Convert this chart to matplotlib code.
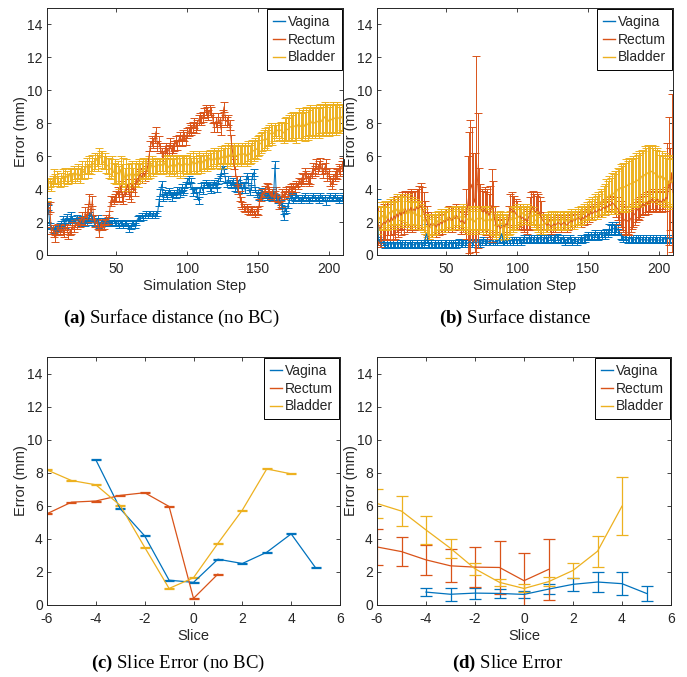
import matplotlib
matplotlib.use("Agg")
import matplotlib.pyplot as plt
from matplotlib.lines import Line2D

plt.rcParams['font.family'] = ['Liberation Sans', 'DejaVu Sans']
plt.rcParams['mathtext.fontset'] = 'custom'
plt.rcParams['mathtext.rm'] = 'Liberation Serif'
plt.rcParams['mathtext.bf'] = 'Liberation Serif:bold'
plt.rcParams['axes.unicode_minus'] = False

# ---------------- data ----------------
steps = list(range(1, 211))
labels = ["Vagina", "Rectum", "Bladder"]
colors = ["#0072BD", "#D95319", "#EDB120"]

# Panel (a): surface distance (no BC)
va_a = [3.3, 2.9, 1.8, 1.7, 1.6, 1.5, 1.7, 1.4, 1.6, 1.8,
        1.9, 2.2, 2.0, 1.8, 2.3, 2.1, 2.0, 2.4, 2.2, 2.1,
        2.0, 2.3, 2.1, 2.0, 1.9, 2.2, 2.1, 1.9, 2.0, 2.1,
        2.4, 2.6, 2.2, 2.0, 1.9, 2.1, 2.2, 1.8, 2.0, 2.1,
        2.0, 1.9, 2.0, 2.1, 1.9, 2.0, 2.0, 2.1, 1.9, 2.0,
        1.9, 1.8, 2.0, 1.9, 1.8, 1.9, 2.0, 1.8, 1.6, 1.7,
        1.9, 2.0, 1.8, 2.0, 2.2, 2.3, 2.2, 2.4, 2.3, 2.4,
        2.5, 2.4, 2.5, 2.5, 2.4, 2.5, 2.4, 2.5, 2.5, 3.2,
        3.8, 4.3, 3.5, 3.8, 3.7, 3.6, 3.9, 3.8, 3.5, 3.7,
        3.8, 3.6, 3.9, 4.0, 3.7, 4.1, 3.8, 3.9, 4.3, 4.5,
        4.6, 4.3, 4.5, 3.8, 3.9, 4.0, 3.6, 3.3, 4.0, 4.2,
        3.9, 4.3, 4.4, 4.2, 4.3, 4.1, 3.9, 4.3, 4.4, 4.2,
        4.0, 4.5, 4.7, 5.0, 5.4, 5.2, 4.6, 4.3, 4.6, 4.4,
        4.2, 4.5, 4.3, 4.1, 4.0, 4.4, 4.6, 4.2, 3.9, 4.3,
        3.9, 4.8, 4.6, 3.8, 4.1, 4.8, 5.0, 4.0, 3.7, 3.8,
        3.5, 3.6, 3.9, 3.7, 3.6, 3.5, 3.7, 3.6, 3.5, 3.4,
        3.6, 5.5, 3.5, 3.3, 3.4, 3.2, 3.0, 2.3, 2.8, 2.7,
        3.0, 3.3, 3.5, 3.6, 3.3, 3.4, 3.7, 3.5, 3.4, 3.3,
        3.5, 3.4, 3.6, 3.4, 3.5, 3.3, 3.4, 3.5, 3.6, 3.5,
        3.4, 3.5, 3.3, 3.6, 3.5, 3.4, 3.5, 3.2, 3.4, 3.5,
        3.6, 3.4, 3.5, 3.6, 3.4, 3.5, 3.3, 3.4, 3.5, 3.6]
va_a_err = [0.15, 0.15, 0.15, 0.15, 0.2, 0.15, 0.15, 0.15, 0.15, 0.15,
            0.15, 0.15, 0.2, 0.15, 0.2, 0.15, 0.15, 0.2, 0.15, 0.15,
            0.15, 0.15, 0.15, 0.2, 0.15, 0.15, 0.15, 0.15, 0.15, 0.15,
            0.2, 0.2, 0.15, 0.15, 0.15, 0.15, 0.2, 0.15, 0.15, 0.15,
            0.15, 0.15, 0.15, 0.15, 0.15, 0.15, 0.15, 0.15, 0.15, 0.15,
            0.15, 0.15, 0.15, 0.15, 0.15, 0.15, 0.15, 0.15, 0.2, 0.15,
            0.15, 0.15, 0.15, 0.15, 0.15, 0.15, 0.15, 0.15, 0.15, 0.15,
            0.15, 0.15, 0.15, 0.15, 0.15, 0.15, 0.15, 0.15, 0.15, 0.2,
            0.2, 0.2, 0.2, 0.15, 0.15, 0.2, 0.15, 0.15, 0.2, 0.15,
            0.15, 0.15, 0.2, 0.15, 0.15, 0.2, 0.15, 0.15, 0.15, 0.2,
            0.2, 0.15, 0.15, 0.2, 0.15, 0.15, 0.2, 0.2, 0.15, 0.15,
            0.2, 0.15, 0.15, 0.15, 0.15, 0.2, 0.15, 0.15, 0.15, 0.15,
            0.15, 0.2, 0.2, 0.2, 0.2, 0.2, 0.2, 0.15, 0.2, 0.15,
            0.15, 0.15, 0.15, 0.2, 0.15, 0.15, 0.2, 0.15, 0.15, 0.15,
            0.15, 0.2, 0.2, 0.15, 0.15, 0.2, 0.2, 0.15, 0.15, 0.15,
            0.15, 0.15, 0.15, 0.15, 0.15, 0.15, 0.15, 0.15, 0.15, 0.15,
            0.15, 0.2, 0.15, 0.15, 0.15, 0.15, 0.15, 0.2, 0.15, 0.15,
            0.15, 0.15, 0.15, 0.15, 0.15, 0.15, 0.15, 0.15, 0.15, 0.15,
            0.15, 0.15, 0.15, 0.15, 0.15, 0.15, 0.15, 0.15, 0.15, 0.15,
            0.15, 0.15, 0.15, 0.15, 0.15, 0.15, 0.15, 0.15, 0.15, 0.15,
            0.15, 0.15, 0.15, 0.15, 0.15, 0.15, 0.15, 0.15, 0.15, 0.15]

re_a = [3.0, 2.8, 2.9, 1.5, 1.6, 1.3, 1.0, 1.5, 1.7, 1.4,
        1.6, 1.5, 1.3, 1.7, 1.6, 1.2, 1.4, 1.5, 1.8, 1.6,
        1.9, 1.8, 2.0, 1.9, 2.1, 2.3, 2.0, 2.6, 2.3, 2.8,
        3.4, 2.5, 3.3, 2.2, 1.9, 2.0, 1.8, 1.3, 1.9, 1.7,
        1.8, 2.0, 2.2, 2.1, 2.5, 3.3, 3.4, 3.3, 3.5, 3.6,
        3.8, 3.5, 4.2, 3.6, 3.4, 3.9, 4.0, 4.3, 3.7, 3.5,
        4.3, 4.1, 3.9, 4.6, 4.4, 4.8, 4.9, 4.7, 5.0, 4.8,
        5.1, 5.3, 6.0, 6.6, 6.9, 6.8, 7.1, 7.5, 6.6, 6.9,
        6.5, 6.2, 6.0, 6.3, 6.5, 6.2, 6.4, 6.8, 6.3, 6.5,
        6.6, 6.9, 6.7, 7.0, 7.2, 6.9, 7.3, 7.2, 7.0, 7.4,
        7.5, 7.7, 7.6, 7.8, 8.0, 7.7, 7.9, 8.2, 8.3, 8.2,
        8.4, 8.6, 8.8, 8.7, 8.5, 8.8, 8.7, 8.3, 7.8, 8.1,
        7.8, 8.3, 8.1, 7.6, 8.5, 9.0, 8.2, 8.1, 8.2, 7.9,
        7.0, 6.3, 5.5, 5.1, 4.5, 4.0, 3.6, 3.2, 3.0, 2.9,
        2.8, 2.9, 2.7, 2.6, 2.8, 2.7, 2.6, 2.5, 2.7, 2.6,
        3.2, 3.5, 3.8, 3.7, 4.0, 4.2, 4.1, 3.9, 3.6, 3.8,
        3.5, 3.7, 3.9, 3.4, 3.0, 3.1, 3.8, 3.6, 3.7, 3.9,
        3.8, 4.0, 4.1, 3.9, 4.2, 4.0, 4.3, 4.2, 4.5, 4.4,
        4.7, 4.6, 5.0, 4.8, 4.7, 4.5, 4.6, 5.0, 5.3, 5.1,
        5.5, 5.2, 5.4, 5.6, 5.2, 5.0, 5.3, 5.5, 4.8, 5.0,
        4.5, 4.3, 4.6, 4.8, 5.0, 4.9, 5.2, 5.1, 5.4, 5.6]
re_a_err = [0.3, 0.3, 0.3, 0.2, 0.2, 0.2, 0.2, 0.2, 0.2, 0.2,
            0.2, 0.2, 0.2, 0.2, 0.2, 0.2, 0.2, 0.2, 0.2, 0.2,
            0.2, 0.2, 0.2, 0.2, 0.2, 0.3, 0.2, 0.3, 0.3, 0.3,
            0.3, 0.3, 0.3, 0.2, 0.2, 0.2, 0.2, 0.2, 0.2, 0.2,
            0.2, 0.2, 0.2, 0.2, 0.2, 0.3, 0.2, 0.2, 0.2, 0.3,
            0.3, 0.3, 0.3, 0.3, 0.3, 0.3, 0.3, 0.3, 0.3, 0.3,
            0.3, 0.3, 0.3, 0.3, 0.3, 0.3, 0.3, 0.3, 0.3, 0.3,
            0.3, 0.3, 0.3, 0.3, 0.3, 0.3, 0.3, 0.3, 0.3, 0.3,
            0.3, 0.3, 0.3, 0.3, 0.3, 0.3, 0.3, 0.3, 0.3, 0.3,
            0.3, 0.3, 0.3, 0.3, 0.3, 0.3, 0.3, 0.3, 0.3, 0.3,
            0.3, 0.3, 0.3, 0.3, 0.3, 0.3, 0.3, 0.3, 0.3, 0.3,
            0.3, 0.3, 0.3, 0.3, 0.3, 0.3, 0.3, 0.3, 0.3, 0.3,
            0.3, 0.3, 0.3, 0.3, 0.3, 0.3, 0.3, 0.3, 0.3, 0.3,
            0.3, 0.3, 0.3, 0.3, 0.3, 0.3, 0.3, 0.3, 0.2, 0.2,
            0.2, 0.2, 0.2, 0.2, 0.2, 0.2, 0.2, 0.2, 0.2, 0.2,
            0.2, 0.2, 0.2, 0.2, 0.2, 0.2, 0.2, 0.2, 0.2, 0.2,
            0.2, 0.2, 0.2, 0.2, 0.2, 0.2, 0.2, 0.2, 0.2, 0.2,
            0.2, 0.2, 0.2, 0.2, 0.2, 0.2, 0.2, 0.2, 0.2, 0.2,
            0.3, 0.3, 0.3, 0.3, 0.3, 0.3, 0.3, 0.3, 0.3, 0.3,
            0.3, 0.3, 0.3, 0.3, 0.3, 0.3, 0.3, 0.3, 0.3, 0.3,
            0.3, 0.3, 0.3, 0.3, 0.3, 0.3, 0.3, 0.3, 0.3, 0.3]

bl_a = [3.6, 4.3, 4.4, 4.2, 4.5, 4.8, 4.6, 4.7, 4.5, 4.4,
        4.6, 4.8, 4.5, 4.9, 4.7, 4.6, 4.9, 4.8, 4.7, 5.0,
        4.8, 4.9, 5.1, 4.8, 5.0, 5.2, 5.0, 5.3, 5.4, 5.1,
        5.5, 5.3, 5.6, 5.5, 5.7, 5.8, 5.6, 6.0, 5.9, 5.8,
        5.6, 5.7, 5.5, 5.4, 5.3, 5.2, 5.4, 5.0, 5.1, 4.9,
        5.0, 4.7, 5.2, 4.8, 5.1, 4.6, 5.0, 4.8, 4.7, 4.9,
        5.0, 4.7, 4.9, 5.1, 4.8, 5.2, 5.0, 5.1, 5.3, 5.2,
        5.3, 5.1, 5.4, 5.2, 5.5, 5.3, 5.4, 5.3, 5.4, 5.5,
        5.4, 5.5, 5.3, 5.6, 5.4, 5.5, 5.3, 5.5, 5.4, 5.6,
        5.3, 5.5, 5.4, 5.6, 5.3, 5.5, 5.4, 5.6, 5.5, 5.4,
        5.5, 5.6, 5.4, 5.7, 5.5, 5.6, 5.4, 5.7, 5.6, 5.5,
        5.7, 5.6, 5.8, 5.6, 5.7, 5.9, 5.7, 5.8, 6.0, 5.8,
        5.9, 6.0, 5.8, 6.1, 5.9, 6.0, 6.1, 5.9, 6.2, 6.0,
        6.1, 6.0, 6.2, 6.1, 6.0, 6.2, 6.1, 6.0, 6.2, 6.1,
        6.2, 6.0, 6.3, 6.1, 6.2, 6.4, 6.3, 6.5, 6.4, 6.6,
        6.7, 6.8, 6.9, 7.0, 7.1, 7.0, 7.2, 7.3, 7.4, 7.3,
        7.4, 7.6, 7.5, 7.6, 7.5, 7.6, 7.5, 7.4, 7.6, 7.7,
        7.6, 7.7, 7.8, 7.7, 7.9, 7.8, 7.7, 7.9, 8.0, 7.8,
        7.9, 8.0, 7.8, 8.1, 7.9, 8.0, 8.2, 8.0, 8.1, 8.0,
        8.2, 8.1, 8.0, 8.3, 8.1, 8.2, 8.4, 8.2, 8.3, 8.1,
        8.3, 8.2, 8.4, 8.3, 8.2, 8.4, 8.3, 8.2, 8.4, 8.3]
bl_a_err = [0.3, 0.3, 0.3, 0.3, 0.3, 0.4, 0.3, 0.4, 0.3, 0.3,
            0.4, 0.4, 0.3, 0.4, 0.4, 0.3, 0.4, 0.4, 0.3, 0.4,
            0.4, 0.4, 0.4, 0.4, 0.4, 0.5, 0.4, 0.4, 0.5, 0.4,
            0.5, 0.4, 0.5, 0.4, 0.5, 0.4, 0.5, 0.5, 0.4, 0.5,
            0.4, 0.5, 0.5, 0.5, 0.6, 0.6, 0.6, 0.6, 0.7, 0.6,
            0.7, 0.7, 0.8, 0.7, 0.8, 0.7, 0.8, 0.7, 0.8, 0.7,
            0.7, 0.6, 0.7, 0.6, 0.7, 0.6, 0.6, 0.6, 0.6, 0.6,
            0.6, 0.5, 0.6, 0.5, 0.5, 0.5, 0.5, 0.4, 0.4, 0.4,
            0.4, 0.4, 0.4, 0.5, 0.4, 0.5, 0.5, 0.5, 0.5, 0.5,
            0.5, 0.5, 0.6, 0.5, 0.6, 0.5, 0.6, 0.5, 0.6, 0.5,
            0.5, 0.6, 0.5, 0.6, 0.5, 0.6, 0.5, 0.6, 0.5, 0.5,
            0.5, 0.5, 0.5, 0.5, 0.5, 0.5, 0.5, 0.5, 0.5, 0.5,
            0.5, 0.5, 0.6, 0.5, 0.6, 0.5, 0.6, 0.6, 0.6, 0.6,
            0.6, 0.6, 0.6, 0.6, 0.6, 0.6, 0.6, 0.6, 0.6, 0.6,
            0.6, 0.6, 0.6, 0.6, 0.6, 0.6, 0.6, 0.6, 0.6, 0.6,
            0.6, 0.6, 0.6, 0.6, 0.6, 0.6, 0.6, 0.6, 0.6, 0.6,
            0.5, 0.4, 0.4, 0.4, 0.5, 0.5, 0.6, 0.6, 0.7, 0.7,
            0.7, 0.8, 0.8, 0.8, 0.8, 0.8, 0.9, 0.8, 0.9, 0.8,
            0.9, 0.9, 0.9, 0.9, 0.9, 0.9, 0.9, 0.9, 0.9, 0.9,
            0.9, 0.9, 0.9, 0.9, 0.9, 0.9, 0.9, 0.9, 0.9, 0.9,
            0.9, 0.9, 0.9, 0.9, 0.9, 0.9, 0.9, 0.8, 0.8, 0.8]

# Panel (b): surface distance
va_b = [3.2, 0.9, 0.8, 0.7, 0.8, 0.7, 0.6, 0.7, 0.6, 0.7,
        0.6, 0.7, 0.6, 0.6, 0.7, 0.6, 0.7, 0.6, 0.7, 0.6,
        0.7, 0.6, 0.6, 0.7, 0.6, 0.7, 0.6, 0.6, 0.7, 0.6,
        0.6, 0.7, 0.6, 0.7, 1.0, 1.3, 0.8, 0.6, 0.7, 0.6,
        0.6, 0.7, 0.6, 0.7, 0.6, 0.7, 0.6, 0.6, 0.7, 0.7,
        0.6, 0.7, 0.7, 0.6, 0.7, 0.7, 0.6, 0.7, 0.8, 0.7,
        0.7, 0.8, 0.7, 0.8, 0.7, 0.8, 0.8, 0.7, 0.8, 0.8,
        0.7, 0.8, 0.8, 0.7, 0.8, 0.9, 0.8, 0.8, 0.9, 0.8,
        0.8, 0.9, 0.8, 0.8, 0.9, 0.8, 0.9, 1.0, 1.3, 0.9,
        0.8, 0.9, 0.8, 0.9, 0.8, 0.9, 0.8, 0.9, 0.9, 0.8,
        0.9, 0.9, 0.8, 0.9, 1.0, 0.9, 0.9, 1.0, 0.9, 1.0,
        0.9, 1.0, 0.9, 1.0, 0.9, 1.0, 1.0, 0.9, 1.0, 1.0,
        0.9, 1.0, 1.1, 1.0, 0.9, 1.0, 1.0, 1.1, 1.0, 0.9,
        0.9, 1.0, 0.9, 0.8, 0.9, 0.9, 1.0, 0.9, 0.8, 0.9,
        0.9, 0.8, 0.9, 0.9, 1.0, 0.9, 1.0, 1.0, 1.1, 1.2,
        1.1, 1.2, 1.1, 1.2, 1.3, 1.2, 1.1, 1.2, 1.3, 1.2,
        1.3, 1.2, 1.4, 1.3, 1.6, 1.5, 1.7, 1.6, 1.5, 1.7,
        1.5, 1.4, 1.2, 1.1, 1.0, 1.1, 1.0, 0.9, 1.0, 1.0,
        0.9, 1.0, 0.9, 1.0, 1.0, 0.9, 1.0, 0.9, 1.0, 0.9,
        1.0, 0.9, 0.9, 1.0, 0.9, 1.0, 0.9, 1.0, 0.9, 0.9,
        1.0, 0.9, 0.9, 1.0, 0.9, 1.0, 1.0, 0.9, 1.0, 1.0]
va_b_err = [0.2, 0.2, 0.2, 0.2, 0.2, 0.2, 0.2, 0.2, 0.2, 0.2,
            0.2, 0.2, 0.2, 0.2, 0.2, 0.2, 0.2, 0.2, 0.2, 0.2,
            0.2, 0.2, 0.2, 0.2, 0.2, 0.2, 0.2, 0.2, 0.2, 0.2,
            0.2, 0.2, 0.2, 0.2, 0.4, 0.6, 0.3, 0.2, 0.2, 0.2,
            0.2, 0.2, 0.2, 0.2, 0.2, 0.2, 0.2, 0.2, 0.2, 0.2,
            0.2, 0.2, 0.2, 0.2, 0.2, 0.2, 0.2, 0.2, 0.2, 0.2,
            0.2, 0.2, 0.2, 0.2, 0.2, 0.2, 0.2, 0.2, 0.2, 0.2,
            0.2, 0.2, 0.2, 0.2, 0.2, 0.2, 0.2, 0.2, 0.2, 0.2,
            0.2, 0.2, 0.2, 0.2, 0.2, 0.2, 0.2, 0.3, 0.5, 0.3,
            0.2, 0.2, 0.2, 0.2, 0.2, 0.2, 0.2, 0.2, 0.2, 0.2,
            0.2, 0.2, 0.2, 0.2, 0.2, 0.2, 0.2, 0.2, 0.2, 0.2,
            0.2, 0.2, 0.2, 0.2, 0.2, 0.2, 0.2, 0.2, 0.2, 0.2,
            0.2, 0.2, 0.2, 0.2, 0.2, 0.2, 0.2, 0.2, 0.2, 0.2,
            0.2, 0.2, 0.2, 0.2, 0.2, 0.2, 0.2, 0.2, 0.2, 0.2,
            0.2, 0.2, 0.2, 0.2, 0.2, 0.2, 0.2, 0.2, 0.2, 0.2,
            0.2, 0.2, 0.2, 0.2, 0.2, 0.2, 0.2, 0.2, 0.2, 0.2,
            0.2, 0.2, 0.2, 0.2, 0.3, 0.3, 0.3, 0.3, 0.3, 0.3,
            0.3, 0.2, 0.2, 0.2, 0.2, 0.2, 0.2, 0.2, 0.2, 0.2,
            0.2, 0.2, 0.2, 0.2, 0.2, 0.2, 0.2, 0.2, 0.2, 0.2,
            0.2, 0.2, 0.2, 0.2, 0.2, 0.2, 0.2, 0.2, 0.2, 0.2,
            0.2, 0.2, 0.2, 0.2, 0.2, 0.2, 0.2, 0.2, 0.2, 0.2]

re_b = [2.0, 1.8, 1.6, 1.7, 1.9, 2.0, 1.9, 2.1, 2.2, 2.0,
        2.3, 2.1, 2.4, 2.2, 2.5, 2.3, 2.6, 2.4, 2.7, 2.5,
        2.8, 2.6, 2.8, 2.7, 2.9, 2.6, 2.8, 2.7, 2.9, 2.8,
        2.9, 3.0, 2.8, 2.6, 2.3, 2.1, 1.8, 1.7, 1.9, 1.8,
        1.9, 1.8, 1.7, 1.9, 1.8, 2.0, 1.9, 2.1, 2.0, 2.2,
        2.1, 2.3, 2.2, 2.1, 2.3, 2.2, 2.4, 2.3, 2.2, 2.0,
        2.1, 2.0, 1.9, 2.5, 3.0, 3.8, 4.0, 4.3, 3.5, 3.2,
        6.0, 4.5, 3.3, 2.9, 2.7, 2.6, 2.8, 2.5, 2.7, 2.4,
        2.6, 3.0, 2.8, 2.2, 1.8, 1.7, 1.8, 1.6, 1.7, 1.8,
        1.7, 1.9, 1.8, 2.2, 2.7, 2.8, 2.6, 2.7, 2.5, 2.4,
        2.3, 2.4, 2.2, 2.3, 2.1, 2.2, 2.0, 2.3, 2.5, 2.8,
        2.9, 2.7, 2.6, 2.8, 2.7, 2.5, 2.3, 2.1, 2.0, 1.9,
        1.8, 1.9, 1.8, 1.7, 1.8, 1.9, 1.8, 1.9, 2.0, 1.9,
        1.8, 1.9, 2.0, 1.9, 1.8, 1.9, 2.0, 2.1, 2.0, 2.2,
        2.1, 2.2, 2.3, 2.2, 2.1, 2.3, 2.2, 2.4, 2.3, 2.5,
        2.4, 2.6, 2.5, 2.6, 2.7, 2.6, 2.7, 2.8, 2.7, 2.8,
        2.9, 2.8, 3.0, 2.9, 3.1, 3.0, 3.2, 3.1, 3.0, 2.9,
        2.8, 2.6, 2.5, 2.3, 2.2, 2.1, 2.0, 2.1, 2.0, 2.2,
        2.3, 2.4, 2.5, 2.6, 2.8, 2.7, 2.9, 3.0, 3.1, 3.0,
        3.2, 3.1, 3.3, 3.2, 3.4, 3.3, 3.2, 3.3, 3.4, 3.2,
        3.3, 3.2, 3.4, 3.3, 3.5, 3.4, 4.5, 4.0, 5.0, 3.8]
re_b_err = [1.2, 1.2, 1.1, 1.0, 1.0, 1.1, 1.0, 1.1, 1.0, 1.1,
            1.1, 1.2, 1.1, 1.2, 1.1, 1.2, 1.1, 1.2, 1.1, 1.2,
            1.1, 1.2, 1.1, 1.2, 1.1, 1.2, 1.1, 1.2, 1.1, 1.2,
            1.3, 1.4, 1.3, 1.2, 1.0, 0.9, 0.8, 0.7, 0.7, 0.7,
            0.6, 0.6, 0.6, 0.6, 0.6, 0.6, 0.6, 0.6, 0.6, 0.6,
            0.7, 0.7, 0.7, 0.7, 0.7, 0.7, 0.7, 0.7, 0.7, 0.7,
            0.6, 0.6, 0.6, 1.5, 3.0, 3.7, 4.2, 3.5, 2.7, 3.0,
            6.1, 4.1, 2.0, 1.4, 1.3, 1.3, 1.3, 1.3, 1.3, 1.3,
            1.6, 2.2, 1.7, 0.8, 0.5, 0.5, 0.5, 0.5, 0.5, 0.5,
            0.5, 0.5, 0.5, 0.8, 1.0, 1.0, 1.0, 0.9, 0.9, 0.9,
            0.7, 0.7, 0.7, 0.7, 0.7, 0.7, 0.7, 0.7, 1.0, 1.0,
            1.0, 1.0, 1.0, 1.0, 1.0, 1.0, 1.0, 0.5, 0.5, 0.5,
            0.4, 0.4, 0.4, 0.4, 0.4, 0.4, 0.4, 0.4, 0.4, 0.4,
            0.4, 0.4, 0.4, 0.4, 0.4, 0.4, 0.4, 0.4, 0.4, 0.4,
            0.4, 0.4, 0.4, 0.4, 0.4, 0.4, 0.4, 0.4, 0.4, 0.4,
            0.4, 0.4, 0.4, 0.4, 0.4, 0.4, 0.4, 0.4, 0.4, 0.4,
            0.4, 0.4, 0.4, 0.4, 0.4, 0.4, 0.4, 0.4, 0.5, 0.6,
            0.7, 0.7, 0.8, 0.8, 0.8, 0.8, 0.8, 0.8, 0.8, 0.8,
            0.7, 0.7, 0.7, 0.6, 0.6, 0.6, 0.6, 0.6, 0.6, 0.6,
            0.6, 0.6, 0.6, 0.6, 0.6, 0.6, 0.6, 0.6, 0.6, 0.6,
            0.6, 0.6, 0.6, 0.6, 0.6, 3.4, 3.9, 2.5, 4.8, 2.7]

bl_b = [2.5, 2.0, 2.3, 2.2, 2.4, 2.3, 2.5, 2.2, 2.4, 2.6,
        2.5, 2.7, 2.4, 2.6, 2.8, 2.5, 2.7, 2.9, 2.6, 2.8,
        2.7, 2.5, 2.8, 2.6, 2.4, 2.7, 2.5, 2.6, 2.4, 2.5,
        2.3, 2.4, 2.2, 2.1, 1.9, 1.7, 1.8, 1.6, 1.7, 1.9,
        1.8, 2.0, 1.9, 2.1, 2.0, 2.2, 2.1, 2.0, 2.2, 2.1,
        2.3, 2.2, 2.1, 2.3, 2.2, 2.4, 2.3, 2.2, 2.4, 2.3,
        2.2, 2.4, 2.3, 2.1, 2.2, 2.0, 2.3, 2.1, 2.2, 2.0,
        2.3, 2.2, 2.1, 2.3, 2.2, 2.0, 2.1, 2.3, 2.2, 2.1,
        2.0, 2.2, 1.9, 1.8, 1.7, 1.9, 1.8, 2.0, 1.9, 1.7,
        1.6, 1.8, 1.7, 1.9, 2.0, 2.2, 2.1, 2.3, 2.2, 2.4,
        2.3, 2.5, 2.4, 2.6, 2.5, 2.4, 2.6, 2.5, 2.4, 2.3,
        2.4, 2.2, 2.1, 2.0, 1.9, 1.8, 1.9, 1.8, 2.0, 1.9,
        2.0, 2.1, 2.0, 2.2, 2.1, 2.0, 2.2, 2.1, 2.0, 2.1,
        2.0, 2.2, 2.1, 2.0, 2.1, 2.2, 2.1, 2.3, 2.2, 2.1,
        2.3, 2.2, 2.4, 2.3, 2.5, 2.4, 2.6, 2.5, 2.7, 2.6,
        2.8, 2.7, 2.9, 2.8, 3.0, 2.9, 3.1, 3.0, 3.2, 3.1,
        3.3, 3.4, 3.6, 3.5, 3.7, 3.6, 3.8, 3.7, 3.9, 3.8,
        4.0, 3.9, 4.1, 4.0, 4.2, 4.1, 4.3, 4.2, 4.4, 4.3,
        4.4, 4.5, 4.4, 4.6, 4.5, 4.7, 4.6, 4.8, 4.7, 4.9,
        4.8, 5.0, 4.9, 5.0, 5.1, 4.9, 5.0, 4.8, 4.9, 4.7,
        4.6, 4.8, 4.5, 4.7, 4.4, 4.6, 4.3, 4.5, 4.4, 4.6]
bl_b_err = [0.7, 0.7, 0.7, 0.7, 0.8, 0.7, 0.8, 0.7, 0.8, 0.8,
            0.8, 0.8, 0.8, 0.8, 0.9, 0.8, 0.9, 0.8, 0.9, 0.8,
            0.9, 0.8, 0.9, 0.8, 0.8, 0.8, 0.8, 0.8, 0.8, 0.8,
            0.7, 0.7, 0.7, 0.7, 0.6, 0.6, 0.6, 0.6, 0.6, 0.6,
            0.6, 0.6, 0.6, 0.6, 0.6, 0.6, 0.6, 0.6, 0.6, 0.6,
            0.6, 0.6, 0.6, 0.6, 0.6, 0.6, 0.6, 0.6, 0.6, 0.6,
            0.7, 0.7, 0.7, 0.7, 0.7, 0.7, 0.7, 0.7, 0.7, 0.7,
            0.7, 0.7, 0.7, 0.7, 0.7, 0.7, 0.7, 0.7, 0.7, 0.7,
            0.7, 0.7, 0.7, 0.7, 0.7, 0.7, 0.7, 0.7, 0.7, 0.7,
            0.7, 0.7, 0.7, 0.7, 0.7, 0.7, 0.7, 0.7, 0.7, 0.7,
            0.5, 0.5, 0.5, 0.5, 0.5, 0.5, 0.5, 0.5, 0.5, 0.5,
            0.5, 0.5, 0.5, 0.5, 0.5, 0.5, 0.5, 0.5, 0.5, 0.5,
            0.5, 0.5, 0.5, 0.5, 0.5, 0.5, 0.5, 0.5, 0.5, 0.5,
            0.5, 0.5, 0.5, 0.5, 0.5, 0.5, 0.5, 0.5, 0.5, 0.5,
            0.5, 0.5, 0.5, 0.5, 0.5, 0.5, 0.5, 0.5, 0.5, 0.5,
            0.6, 0.6, 0.6, 0.6, 0.7, 0.7, 0.7, 0.7, 0.8, 0.8,
            0.9, 0.9, 1.0, 1.0, 1.1, 1.1, 1.2, 1.2, 1.2, 1.3,
            1.3, 1.3, 1.4, 1.4, 1.4, 1.5, 1.5, 1.5, 1.5, 1.5,
            1.5, 1.5, 1.5, 1.6, 1.6, 1.6, 1.6, 1.6, 1.6, 1.7,
            1.7, 1.7, 1.7, 1.7, 1.6, 1.6, 1.6, 1.6, 1.6, 1.6,
            1.5, 1.5, 1.5, 1.5, 1.5, 1.5, 1.5, 1.5, 1.5, 1.5]

# Panel (c): slice error (no BC)
sl_va = [-4, -3, -2, -1, 0, 1, 2, 3, 4, 5]
sl_re = [-6, -5, -4, -3, -2, -1, 0, 1]
sl_bl = [-6, -5, -4, -3, -2, -1, 0, 1, 2, 3, 4]
va_c = [8.78, 5.82, 4.18, 1.5, 1.37, 2.77, 2.51, 3.19, 4.3, 2.25]
va_c_err = [0.03, 0.03, 0.03, 0.03, 0.03, 0.03, 0.03, 0.03, 0.03, 0.03]
re_c = [5.52, 6.22, 6.29, 6.63, 6.79, 5.96, 0.4, 1.87]
re_c_err = [0.03, 0.03, 0.03, 0.03, 0.03, 0.03, 0.03, 0.03]
bl_c = [8.17, 7.53, 7.27, 6.02, 3.49, 1.0, 1.65, 3.73, 5.74, 8.23, 7.93]
bl_c_err = [0.03, 0.03, 0.03, 0.03, 0.03, 0.03, 0.03, 0.03, 0.03, 0.03, 0.03]

# Panel (d): slice error
va_d = [0.78, 0.65, 0.72, 0.7, 0.64, 0.96, 1.25, 1.39, 1.29, 0.7]
va_d_err = [0.26, 0.39, 0.33, 0.27, 0.2, 0.3, 0.4, 0.6, 0.7, 0.45]
re_d = [3.51, 3.23, 2.73, 2.37, 2.29, 2.27, 1.47, 2.15]
re_d_err = [1.1, 0.9, 0.9, 1.0, 1.23, 1.6, 1.7, 1.82]
bl_d = [6.14, 5.68, 4.54, 3.43, 2.19, 1.37, 1.0, 1.41, 2.09, 3.25, 5.98]
bl_d_err = [0.9, 0.9, 0.83, 0.57, 0.38, 0.2, 0.24, 0.27, 0.48, 0.93, 1.75]

# ---------------- drawing ----------------
W, H = 687, 677
fig = plt.figure(figsize=(W / 100, H / 100), dpi=100)

def frac(l, t, r, b):
    return [l / W, 1 - b / H, (r - l) / W, (b - t) / H]

AX = '#262626'

def style(ax, xlim, xticks, xlabel):
    ax.set_xlim(*xlim)
    ax.set_ylim(0, 15)
    ax.set_xticks(xticks)
    ax.set_yticks([0, 2, 4, 6, 8, 10, 12, 14])
    ax.tick_params(direction='in', top=True, right=True, length=3, width=0.6,
                   colors=AX, labelsize=10)
    ax.tick_params(axis='x', pad=5)
    ax.tick_params(axis='y', pad=3)
    for s in ax.spines.values():
        s.set_color(AX)
        s.set_linewidth(0.7)
    ax.set_xlabel(xlabel, fontsize=10.5, color=AX, labelpad=2)
    ax.set_ylabel('Error (mm)', fontsize=10.5, color=AX, labelpad=-0.5)
    handles = [Line2D([], [], color=c, lw=1.0) for c in colors]
    leg = ax.legend(handles, labels, loc='upper right', fontsize=10, frameon=True,
                    fancybox=False, edgecolor='black', framealpha=1,
                    borderpad=0.4, labelspacing=0.28, handlelength=0.9,
                    handletextpad=0.2, borderaxespad=0.08)
    leg.get_frame().set_linewidth(0.7)
    for t in leg.get_texts():
        t.set_color(AX)

def draw(ax, xs_list, ys, es, cap, lw):
    for x, y, e, c in zip(xs_list, ys, es, colors):
        ax.errorbar(x, y, yerr=e, color=c, lw=lw, elinewidth=lw, capsize=cap,
                    capthick=lw)

ax_a = fig.add_axes(frac(47, 8, 343, 255))
draw(ax_a, [steps] * 3, [va_a, re_a, bl_a], [va_a_err, re_a_err, bl_a_err], 3, 0.7)
style(ax_a, (1, 210), [50, 100, 150, 200], 'Simulation Step')

ax_b = fig.add_axes(frac(377, 8, 673, 255))
draw(ax_b, [steps] * 3, [va_b, re_b, bl_b], [va_b_err, re_b_err, bl_b_err], 3, 0.7)
style(ax_b, (1, 210), [50, 100, 150, 200], 'Simulation Step')

ax_c = fig.add_axes(frac(47, 357, 340, 605))
draw(ax_c, [sl_va, sl_re, sl_bl], [va_c, re_c, bl_c], [va_c_err, re_c_err, bl_c_err], 3.5, 0.9)
style(ax_c, (-6, 6), [-6, -4, -2, 0, 2, 4, 6], 'Slice')

ax_d = fig.add_axes(frac(377, 357, 671, 605))
draw(ax_d, [sl_va, sl_re, sl_bl], [va_d, re_d, bl_d], [va_d_err, re_d_err, bl_d_err], 4, 0.9)
style(ax_d, (-6, 6), [-6, -4, -2, 0, 2, 4, 6], 'Slice')

cap_kw = dict(ha='center', va='center', fontsize=13.5, family='Liberation Serif')
fig.text(171 / W, 1 - 318 / H, r'$\mathbf{(a)}$ Surface distance (no BC)', **cap_kw)
fig.text(515 / W, 1 - 318 / H, r'$\mathbf{(b)}$ Surface distance', **cap_kw)
fig.text(178 / W, 1 - 663 / H, r'$\mathbf{(c)}$ Slice Error (no BC)', **cap_kw)
fig.text(508 / W, 1 - 663 / H, r'$\mathbf{(d)}$ Slice Error', **cap_kw)

fig.savefig('out.png', dpi=100)
